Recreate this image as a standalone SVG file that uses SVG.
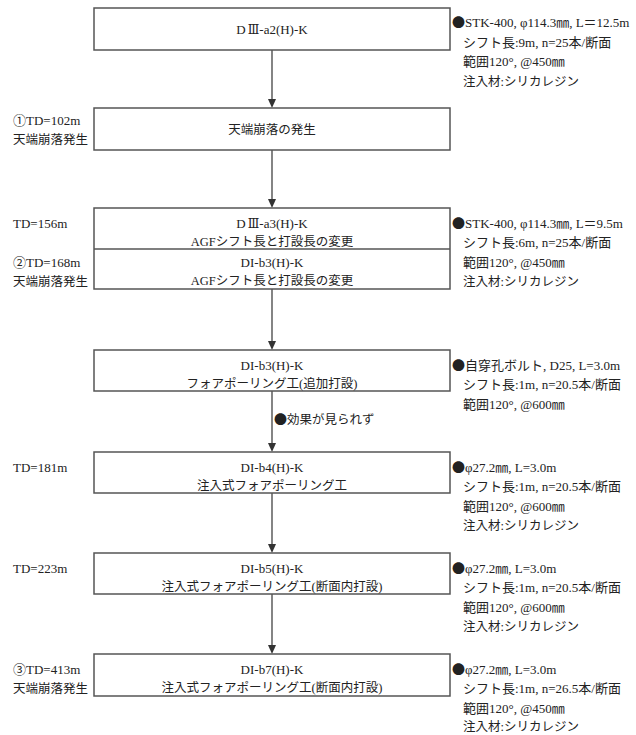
<svg xmlns="http://www.w3.org/2000/svg" width="636" height="735" viewBox="0 0 636 735">
<style>
text{font-family:"Liberation Serif","Noto Sans CJK JP",serif;font-size:13px;fill:#222}
.c{text-anchor:middle}
.j{font-size:12.5px}
.b{font-family:"Noto Sans CJK JP","Liberation Serif",sans-serif;font-size:13px}
.r{font-family:"DejaVu Serif","Liberation Serif",serif;font-size:12px}
.box{fill:#fff;stroke:#555;stroke-width:1.5}
.ln{stroke:#333;stroke-width:1.2;fill:none}
.ah{fill:#333}
</style>
<rect width="636" height="735" fill="#fff"/>
<g id="connectors">
<line class="ln" x1="272" y1="50" x2="272" y2="99"/><path class="ah" d="M268,99 L276,99 L272,108 Z"/>
<line class="ln" x1="272" y1="150" x2="272" y2="199"/><path class="ah" d="M268,199 L276,199 L272,208 Z"/>
<line class="ln" x1="272" y1="289" x2="272" y2="341"/><path class="ah" d="M268,341 L276,341 L272,350 Z"/>
<line class="ln" x1="272" y1="391" x2="272" y2="443"/><path class="ah" d="M268,443 L276,443 L272,452 Z"/>
<line class="ln" x1="272" y1="493" x2="272" y2="544"/><path class="ah" d="M268,544 L276,544 L272,553 Z"/>
<line class="ln" x1="272" y1="594" x2="272" y2="645"/><path class="ah" d="M268,645 L276,645 L272,654 Z"/>
<text class="j" x="274" y="424"><tspan class="b">●</tspan>効果が見られず</text>
</g>
<g id="n1">
<rect class="box" x="94" y="8" width="356" height="42"/>
<text class="c" x="272" y="34">D<tspan class="r" dx="2">Ⅲ</tspan>-a2(H)-K</text>
<text x="452" y="27"><tspan class="b">●</tspan>STK-400, φ114.3㎜, L＝12.5m</text>
<text x="463" y="46.5">シフト長:9m, n=25本/断面</text>
<text x="463" y="66">範囲120°, @450㎜</text>
<text class="j" x="463" y="85.5">注入材:シリカレジン</text>
</g>
<g id="n2">
<rect class="box" x="94" y="108" width="356" height="42"/>
<text class="c j" x="272" y="134">天端崩落の発生</text>
<text x="13" y="125">①TD=102m</text>
<text class="j" x="13" y="144">天端崩落発生</text>
</g>
<g id="n3">
<rect class="box" x="94" y="208" width="356" height="81"/>
<line x1="94" y1="249" x2="450" y2="249" stroke="#555" stroke-width="1.5"/>
<text class="c" x="272" y="228">D<tspan class="r" dx="2">Ⅲ</tspan>-a3(H)-K</text>
<text class="c j" x="272" y="246">AGFシフト長と打設長の変更</text>
<text class="c" x="272" y="267">DI-b3(H)-K</text>
<text class="c j" x="272" y="285">AGFシフト長と打設長の変更</text>
<text x="13" y="228">TD=156m</text>
<text x="13" y="267">②TD=168m</text>
<text class="j" x="13" y="286">天端崩落発生</text>
<text x="452" y="228"><tspan class="b">●</tspan>STK-400, φ114.3㎜, L＝9.5m</text>
<text x="463" y="247">シフト長:6m, n=25本/断面</text>
<text x="463" y="266.5">範囲120°, @450㎜</text>
<text class="j" x="463" y="286">注入材:シリカレジン</text>
</g>
<g id="n4">
<rect class="box" x="94" y="350" width="356" height="41"/>
<text class="c" x="272" y="370">DI-b3(H)-K</text>
<text class="c j" x="272" y="388">フォアポーリング工(追加打設)</text>
<text x="452" y="370"><tspan class="b">●</tspan>自穿孔ボルト, D25, L=3.0m</text>
<text x="463" y="389">シフト長:1m, n=20.5本/断面</text>
<text x="463" y="408.5">範囲120°, @600㎜</text>
</g>
<g id="n5">
<rect class="box" x="94" y="452" width="356" height="41"/>
<text class="c" x="272" y="472">DI-b4(H)-K</text>
<text class="c j" x="272" y="490">注入式フォアポーリング工</text>
<text x="13" y="472">TD=181m</text>
<text x="452" y="472"><tspan class="b">●</tspan>φ27.2㎜, L=3.0m</text>
<text x="463" y="491">シフト長:1m, n=20.5本/断面</text>
<text x="463" y="510.5">範囲120°, @600㎜</text>
<text class="j" x="463" y="530">注入材:シリカレジン</text>
</g>
<g id="n6">
<rect class="box" x="94" y="553" width="356" height="41"/>
<text class="c" x="272" y="573">DI-b5(H)-K</text>
<text class="c j" x="272" y="591">注入式フォアポーリング工(断面内打設)</text>
<text x="13" y="573">TD=223m</text>
<text x="452" y="573"><tspan class="b">●</tspan>φ27.2㎜, L=3.0m</text>
<text x="463" y="592">シフト長:1m, n=20.5本/断面</text>
<text x="463" y="611.5">範囲120°, @600㎜</text>
<text class="j" x="463" y="631">注入材:シリカレジン</text>
</g>
<g id="n7">
<rect class="box" x="94" y="654" width="356" height="42"/>
<text class="c" x="272" y="674">DI-b7(H)-K</text>
<text class="c j" x="272" y="692">注入式フォアポーリング工(断面内打設)</text>
<text x="13" y="674">③TD=413m</text>
<text class="j" x="13" y="693">天端崩落発生</text>
<text x="452" y="674"><tspan class="b">●</tspan>φ27.2㎜, L=3.0m</text>
<text x="463" y="693">シフト長:1m, n=26.5本/断面</text>
<text x="463" y="712.5">範囲120°, @450㎜</text>
<text class="j" x="463" y="731">注入材:シリカレジン</text>
</g>
</svg>
